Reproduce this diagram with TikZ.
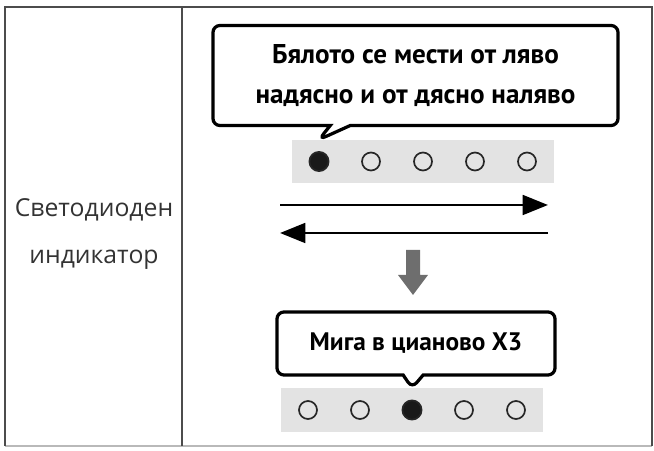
\documentclass[tikz,border=0pt]{standalone}
\usepackage{fontspec}
\setmainfont{Open Sans}
\newfontfamily\bubblefont{PT Sans}
\usetikzlibrary{arrows.meta,shapes.callouts}
\begin{document}
\begin{tikzpicture}[x=.025cm,y=-.025cm,
  bubble/.style={rectangle callout,draw=black,line width=2.3pt,rounded corners=5pt,fill=white,align=center,
    callout pointer width=.5cm,font=\bubblefont\bfseries\fontsize{19.3}{28.5}\selectfont},
  ledbar/.style={rectangle,fill=gray!22,minimum width=6.525cm,minimum height=1.08cm,inner sep=0pt},
  ledoff/.style={circle,draw=black!85,line width=1.2pt,minimum size=.45cm,inner sep=0pt},
  ledon/.style={ledoff,fill=black!90,minimum size=.48cm},
  swipe/.style={line width=2pt,-{Triangle[length=18pt,width=14pt]}}]
\useasboundingbox (0,0) rectangle (654,451);
\draw[gray!55,line width=1.2pt] (5,446) -- (652,446);
\draw[gray!60!black,line width=1pt] (5,446) -- (5,7) -- (652,7) -- (652,446) (182,7) -- (182,446);
\node[align=center,text=black!80,font=\fontsize{17.6}{34}\selectfont] (label) at (94,234) {Светодиоден\\индикатор};
\foreach \row/\y/\x/\on in {top/161.5/319/1,bot/410/308/3}{
  \node[ledbar] (\row bar) at (\x+104,\y) {};
  \foreach \i in {1,...,5}{
    \ifnum\i=\on \node[ledon] (\row\i) at (\x+52*\i-52,\y) {};
    \else \node[ledoff] (\row\i) at (\x+52*\i-52,\y) {};\fi
  }
}
\node[bubble,minimum width=10.125cm,minimum height=2.5cm,callout absolute pointer={(top1 |- topbar.north)}]
  (msgtop) at (415.5,75.5) {Бялото се мести от ляво\\надясно и от дясно наляво};
\node[bubble,minimum width=6.95cm,minimum height=1.575cm,callout absolute pointer={(bot3 |- botbar.north)},
  font=\bubblefont\bfseries\fontsize{18}{28.5}\selectfont]
  (msgbot) at (416,343.5) {Мига в цианово X3};
\coordinate (r0) at (280,205); \coordinate (r1) at (548,205);
\coordinate (l0) at (548,233); \coordinate (l1) at (280,233);
\draw[swipe] (r0) -- (r1);
\draw[swipe] (l0) -- (l1);
\fill[black!57] (406,250) -- (420,250) -- (420,275) -- (428,275) -- (413,295) -- (398,275) -- (406,275) -- cycle;
\end{tikzpicture}
\end{document}
